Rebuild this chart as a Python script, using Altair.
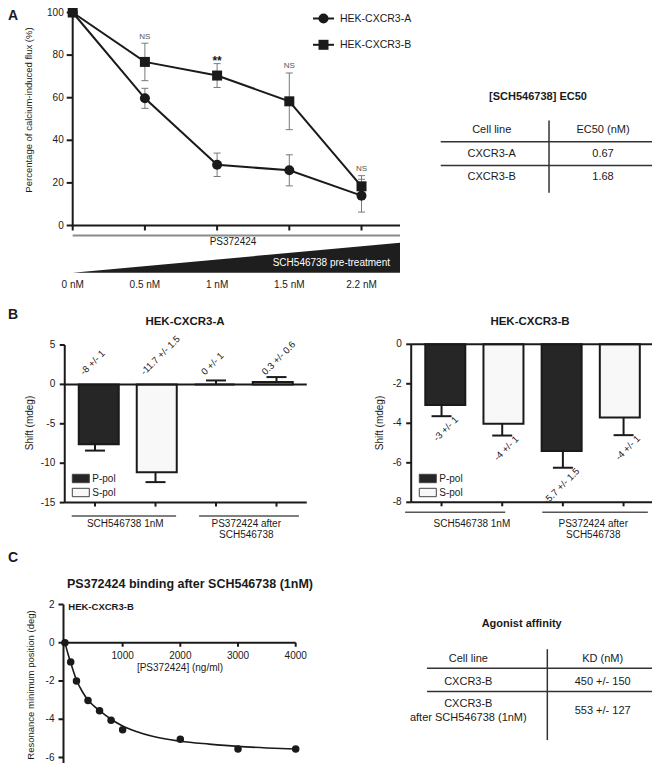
import altair as alt
import pandas as pd

# ---------------- data ----------------
conc_labels = ["0 nM", "0.5 nM", "1 nM", "1.5 nM", "2.2 nM"]
series_names = ["HEK-CXCR3-A", "HEK-CXCR3-B"]
cxcr3a_mean = [100, 59.7, 28.5, 25.9, 14.0]
cxcr3a_err = [0, 4.7, 5.5, 7.3, 7.7]
cxcr3b_mean = [100, 76.8, 70.4, 58.3, 18.4]
cxcr3b_err = [0, 8.8, 5.6, 13.3, 5.0]
signif = ["", "NS", "**", "NS", "NS"]
yA_ticks = [0, 20, 40, 60, 80, 100]

ec50_header = ["Cell line", "EC50 (nM)"]
ec50_cells = ["CXCR3-A", "CXCR3-B"]
ec50_values = ["0.67", "1.68"]

pol = ["P-pol", "S-pol", "P-pol", "S-pol"]
groupsB = ["SCH546738 1nM", "PS372424 after\nSCH546738"]
shiftA_val = [-7.6, -11.15, 0.0, 0.3]
shiftA_err = [0.8, 1.25, 0.5, 0.63]
shiftA_lab = ["-8 +/- 1", "-11.7 +/- 1.5", "0 +/- 1", "0.3 +/- 0.6"]
shiftB_val = [-3.07, -4.02, -5.4, -3.7]
shiftB_err = [0.57, 0.6, 0.85, 0.9]
shiftB_lab = ["-3 +/- 1", "-4 +/- 1", "-5.7 +/- 1.5", "-4 +/- 1"]
yBA_ticks = [5, 0, -5, -10, -15]
yBB_ticks = [0, -2, -4, -6, -8]

conc_ng = [0, 100, 200, 400, 600, 800, 1000, 2000, 3000, 4000]
resonance = [0, -1.0, -2.0, -3.02, -3.55, -4.05, -4.55, -5.05, -5.55, -5.55]
fit_x = [0, 50, 100, 200, 300, 400, 500, 600, 800, 1000, 1250, 1500, 2000, 2500, 3000, 3500, 4000]
fit_y = [0, -0.55, -1.05, -1.95, -2.55, -3.0, -3.3, -3.55, -4.0, -4.35, -4.65, -4.88, -5.15, -5.3, -5.42, -5.5, -5.56]
xC_ticks = [1000, 2000, 3000, 4000]
yC_ticks = [2, 0, -2, -4, -6]

kd_col0 = ["Cell line", "CXCR3-B", "CXCR3-B", "after SCH546738 (1nM)"]
kd_col1 = ["KD (nM)", "450 +/- 150", "553 +/- 127"]

# ---------------- helpers ----------------
FONT = "Liberation Sans"
INK = "#1a1a1a"
GREY = "#7a7a7a"


def P(v):
    return v - 8


def S(domain, r0, r1):
    return alt.Scale(domain=domain, range=[P(r0), P(r1)], nice=False, zero=False)


def X(f, s):
    return alt.X(f, type="quantitative", scale=s, axis=None)


def Y(f, s):
    return alt.Y(f, type="quantitative", scale=s, axis=None)


def txt(text, x, y, size=10, bold=False, align="center", color=INK, angle=0, baseline="middle"):
    kw = dict(font=FONT, fontSize=size, fontWeight="bold" if bold else "normal",
              align=align, baseline=baseline, color=color)
    if angle:
        kw["angle"] = angle
    return alt.Chart(pd.DataFrame({"t": [text]})).mark_text(**kw).encode(
        x=alt.value(P(x)), y=alt.value(P(y)), text="t:N")


L = []

# ================= Panel A =================
xA = S([0, 4.533], 72.7, 400)
yA = S([0, 100], 225.5, 12.5)
rows = []
for i in range(5):
    for s, m, e in ((series_names[0], cxcr3a_mean, cxcr3a_err),
                    (series_names[1], cxcr3b_mean, cxcr3b_err)):
        rows.append({"idx": i, "series": s, "mean": m[i], "lo": m[i] - e[i],
                     "hi": m[i] + e[i], "err": e[i]})
dfA = pd.DataFrame(rows)
errA = dfA[dfA["err"] > 0]
capsA = pd.concat([errA[["idx"]].assign(v=errA["lo"].values),
                   errA[["idx"]].assign(v=errA["hi"].values)])
shapeS = alt.Scale(domain=series_names, range=["circle", "square"])

L.append(alt.Chart(errA).mark_rule(color=GREY, strokeWidth=1).encode(
    x=X("idx", xA), y=Y("lo", yA), y2="hi"))
L.append(alt.Chart(capsA).mark_rule(color=GREY, strokeWidth=1, xOffset=-3.5, x2Offset=3.5).encode(
    x=X("idx", xA), x2="idx", y=Y("v", yA)))
L.append(alt.Chart(dfA).mark_line(color=INK, strokeWidth=2).encode(
    x=X("idx", xA), y=Y("mean", yA), detail="series:N"))
L.append(alt.Chart(dfA).mark_point(filled=True, opacity=1, color=INK, size=100).encode(
    x=X("idx", xA), y=Y("mean", yA),
    shape=alt.Shape("series:N", scale=shapeS, legend=None)))

top = [max(cxcr3a_mean[i] + cxcr3a_err[i], cxcr3b_mean[i] + cxcr3b_err[i]) for i in range(5)]
sig = pd.DataFrame({"idx": list(range(5)), "lab": signif, "top": top})
L.append(alt.Chart(sig[sig["lab"] == "NS"]).mark_text(
    font=FONT, fontSize=8, color="#555555", baseline="alphabetic", yOffset=-4.5).encode(
    x=X("idx", xA), y=Y("top", yA), text="lab:N"))
L.append(alt.Chart(sig[sig["lab"] == "**"]).mark_text(
    font=FONT, fontSize=12, fontWeight="bold", color=INK, baseline="alphabetic", yOffset=1).encode(
    x=X("idx", xA), y=Y("top", yA), text="lab:N"))

axA = pd.DataFrame({"x0": [0], "x1": [4.533], "y0": [0], "y1": [100]})
L.append(alt.Chart(axA).mark_rule(color=INK, strokeWidth=2).encode(
    x=X("x0", xA), y=Y("y0", yA), y2="y1"))
L.append(alt.Chart(axA).mark_rule(color=INK, strokeWidth=2).encode(
    x=X("x0", xA), x2="x1", y=Y("y0", yA)))
ytA = pd.DataFrame({"v": yA_ticks, "s": [str(v) for v in yA_ticks], "x0": 0})
L.append(alt.Chart(ytA).mark_rule(color=INK, strokeWidth=2, x2Offset=-6).encode(
    x=X("x0", xA), x2="x0", y=Y("v", yA)))
L.append(alt.Chart(ytA).mark_text(font=FONT, fontSize=10, color=INK, align="right",
                                  baseline="middle", xOffset=-9).encode(
    x=X("x0", xA), y=Y("v", yA), text="s:N"))
xtA = pd.DataFrame({"idx": list(range(5)), "lab": conc_labels, "y0": 0})
L.append(alt.Chart(xtA).mark_rule(color=INK, strokeWidth=2, y2Offset=5).encode(
    x=X("idx", xA), y=Y("y0", yA), y2="y0"))

# PS372424 bracket and pre-treatment wedge
L.append(alt.Chart(axA).mark_rule(color="#8a8a8a", strokeWidth=2).encode(
    x=X("x0", xA), x2="x1", y=alt.value(P(235.5))))
L.append(txt("PS372424", 233, 241.5))
wedge = pd.DataFrame({"x": [0, 4.533], "top": [0, 1], "base": [0, 0]})
yW = S([0, 1], 272.7, 242.7)
L.append(alt.Chart(wedge).mark_area(color="#1e1e1e", opacity=1).encode(
    x=X("x", xA), y=Y("top", yW), y2="base"))
L.append(txt("SCH546738 pre-treatment", 390, 262.7, color="white", align="right"))
L.append(alt.Chart(xtA).mark_text(font=FONT, fontSize=10, color=INK).encode(
    x=X("idx", xA), y=alt.value(P(285)), text="lab:N"))

# legend A
legA = pd.DataFrame({"series": series_names, "row": [0, 1]})
yL = S([0, 1], 18.5, 44.8)
L.append(alt.Chart(legA).mark_rule(color=INK, strokeWidth=2).encode(
    x=alt.value(P(313)), x2=alt.value(P(334)), y=Y("row", yL)))
L.append(alt.Chart(legA).mark_point(filled=True, opacity=1, color=INK, size=100).encode(
    x=alt.value(P(323.5)), y=Y("row", yL),
    shape=alt.Shape("series:N", scale=shapeS, legend=None)))
L.append(alt.Chart(legA).mark_text(font=FONT, fontSize=10.5, color=INK, align="left").encode(
    x=alt.value(P(340)), y=Y("row", yL), text="series:N"))

L.append(txt("Percentage of calcium-induced flux (%)", 29, 110, size=9.5, angle=270))
L.append(txt("A", 8, 16, size=14, bold=True, align="left"))

# table A
cA = S([0, 1], 491.7, 603)
rA = S([0, 2], 130, 177.3)
cellsA = pd.DataFrame({"col": [0, 1, 0, 1, 0, 1], "row": [0, 0, 1, 1, 2, 2],
                       "t": [ec50_header[0], ec50_header[1], ec50_cells[0], ec50_values[0],
                             ec50_cells[1], ec50_values[1]]})
L.append(alt.Chart(cellsA).mark_text(font=FONT, fontSize=11, color=INK).encode(
    x=X("col", cA), y=Y("row", rA), text="t:N"))
hA = pd.DataFrame({"r": [0.5, 1.5], "c0": -0.458, "c1": 1.5})
L.append(alt.Chart(hA).mark_rule(color="#333333", strokeWidth=1.5).encode(
    x=X("c0", cA), x2="c1", y=Y("r", rA)))
vA = pd.DataFrame({"c": [0.515], "r0": [-0.4], "r1": [2.65]})
L.append(alt.Chart(vA).mark_rule(color="#333333", strokeWidth=1.5).encode(
    x=X("c", cA), y=Y("r0", rA), y2="r1"))
L.append(txt("[SCH546738] EC50", 538, 97, size=11, bold=True))

# ================= Panel B =================
fillS = alt.Scale(domain=["P-pol", "S-pol"], range=["#262626", "#f8f8f8"])


def panelB(vals, errs, labs, xs, ys, yticks, ylo, yhi, brk_y, pads, above, leg_x, ylab_x):
    out = []
    df = pd.DataFrame({"idx": list(range(4)), "pol": pol, "val": vals, "zero": 0.0, "lab": labs})
    df["end"] = [v + (e if v >= 0 else -e) for v, e in zip(vals, errs)]
    out.append(alt.Chart(df).mark_bar(size=40, stroke=INK, strokeWidth=2).encode(
        x=X("idx", xs), y=Y("val", ys), y2="zero",
        fill=alt.Fill("pol:N", scale=fillS, legend=None)))
    out.append(alt.Chart(df).mark_rule(color=INK, strokeWidth=2).encode(
        x=X("idx", xs), y=Y("val", ys), y2="end"))
    out.append(alt.Chart(df).mark_rule(color=INK, strokeWidth=2, xOffset=-10, x2Offset=10).encode(
        x=X("idx", xs), x2="idx", y=Y("end", ys)))
    if above:
        out.append(alt.Chart(df).mark_text(font=FONT, fontSize=9.5, color=INK, angle=315,
                                           align="left", baseline="middle",
                                           xOffset=-13, yOffset=-11).encode(
            x=X("idx", xs), y=Y("zero", ys), text="lab:N"))
    else:
        out.append(alt.Chart(df).mark_text(font=FONT, fontSize=9.5, color=INK, angle=315,
                                           align="right", baseline="middle",
                                           xOffset=15, yOffset=2).encode(
            x=X("idx", xs), y=Y("end", ys), text="lab:N"))
    ax = pd.DataFrame({"x0": [-0.5], "x1": [3.5], "ylo": [ylo], "yhi": [yhi], "z": [0.0]})
    out.append(alt.Chart(ax).mark_rule(color=INK, strokeWidth=2).encode(
        x=X("x0", xs), y=Y("ylo", ys), y2="yhi"))
    out.append(alt.Chart(ax).mark_rule(color=INK, strokeWidth=2).encode(
        x=X("x0", xs), x2="x1", y=Y("z", ys)))
    out.append(alt.Chart(ax).mark_rule(color=INK, strokeWidth=2).encode(
        x=X("x0", xs), x2="x1", y=Y("ylo", ys)))
    yt = pd.DataFrame({"v": yticks, "s": [str(v) for v in yticks], "x0": -0.5})
    out.append(alt.Chart(yt).mark_rule(color=INK, strokeWidth=2, x2Offset=-5).encode(
        x=X("x0", xs), x2="x0", y=Y("v", ys)))
    out.append(alt.Chart(yt).mark_text(font=FONT, fontSize=10, color=INK, align="right",
                                       baseline="middle", xOffset=-9.5).encode(
        x=X("x0", xs), y=Y("v", ys), text="s:N"))
    xt = pd.DataFrame({"idx": list(range(4)), "y0": ylo})
    out.append(alt.Chart(xt).mark_rule(color=INK, strokeWidth=2, y2Offset=4).encode(
        x=X("idx", xs), y=Y("y0", ys), y2="y0"))
    br = pd.DataFrame({"g": groupsB, "s": [0 + pads[0], 2 + pads[2]],
                       "e": [1 + pads[1], 3 + pads[3]], "m": [0.5, 2.5]})
    out.append(alt.Chart(br).mark_rule(color="#555555", strokeWidth=1.5).encode(
        x=X("s", xs), x2="e", y=alt.value(P(brk_y))))
    out.append(alt.Chart(br).mark_text(font=FONT, fontSize=10, color=INK, baseline="top",
                                       lineBreak="\n", lineHeight=11.5).encode(
        x=X("m", xs), y=alt.value(P(518.5)), text="g:N"))
    leg = pd.DataFrame({"pol": ["P-pol", "S-pol"], "row": [0, 1]})
    yLeg = S([0, 1], 478.5, 492.5)
    out.append(alt.Chart(leg).mark_rect(stroke="#444444", strokeWidth=1, yOffset=-4.2,
                                        y2Offset=4.2).encode(
        x=alt.value(P(leg_x)), x2=alt.value(P(leg_x + 17)), y=Y("row", yLeg), y2="row",
        fill=alt.Fill("pol:N", scale=fillS, legend=None)))
    out.append(alt.Chart(leg).mark_text(font=FONT, fontSize=10, color=INK, align="left").encode(
        x=alt.value(P(leg_x + 20)), y=Y("row", yLeg), text="pol:N"))
    out.append(txt("Shift (mdeg)", ylab_x, 423, size=10, angle=270))
    return out


xBL = S([-0.5, 3.5], 64.75, 306.75)
yBL = S([-15, 5], 502.6, 345)
L += panelB(shiftA_val, shiftA_err, shiftA_lab, xBL, yBL, yBA_ticks, -15, 5, 516,
            [-0.385, 0.34, -0.28, 0.37], True, 72.3, 30)
xBR = S([-0.5, 3.5], 411.2, 653.9)
yBR = S([-8, 0], 502.3, 344.3)
L += panelB(shiftB_val, shiftB_err, shiftB_lab, xBR, yBR, yBB_ticks, -8, 0, 512.3,
            [-0.6, 0.05, -0.34, 0.4], False, 419.3, 380)
L.append(txt("B", 8, 315, size=14, bold=True, align="left"))
L.append(txt("HEK-CXCR3-A", 185, 321.7, size=11.5, bold=True))
L.append(txt("HEK-CXCR3-B", 530, 321.7, size=11.5, bold=True))

# ================= Panel C =================
xC = S([-25, 4000], 63.5, 295.7)
yC = S([-6, 2], 757.5, 604.5)
fit = pd.DataFrame({"x": fit_x, "y": fit_y})
pts = pd.DataFrame({"x": conc_ng, "y": resonance})
axC = pd.DataFrame({"x0": [-25], "x1": [4000], "ylo": [-6.6], "yhi": [2], "z": [0]})
L.append(alt.Chart(axC).mark_rule(color=INK, strokeWidth=2).encode(
    x=X("x0", xC), y=Y("ylo", yC), y2="yhi"))
L.append(alt.Chart(axC).mark_rule(color=INK, strokeWidth=2).encode(
    x=X("x0", xC), x2="x1", y=Y("z", yC)))
ytC = pd.DataFrame({"v": yC_ticks, "s": [str(v) for v in yC_ticks], "x0": -25})
L.append(alt.Chart(ytC).mark_rule(color=INK, strokeWidth=2, x2Offset=-5).encode(
    x=X("x0", xC), x2="x0", y=Y("v", yC)))
L.append(alt.Chart(ytC).mark_text(font=FONT, fontSize=10, color=INK, align="right",
                                  baseline="middle", xOffset=-9).encode(
    x=X("x0", xC), y=Y("v", yC), text="s:N"))
xtC = pd.DataFrame({"v": xC_ticks, "s": [str(v) for v in xC_ticks], "y0": 0})
L.append(alt.Chart(xtC).mark_rule(color=INK, strokeWidth=2, y2Offset=4).encode(
    x=X("v", xC), y=Y("y0", yC), y2="y0"))
L.append(alt.Chart(xtC).mark_text(font=FONT, fontSize=10, color=INK, baseline="middle",
                                  yOffset=13.5).encode(
    x=X("v", xC), y=Y("y0", yC), text="s:N"))
L.append(alt.Chart(fit).mark_line(color=INK, strokeWidth=1.6, interpolate="monotone").encode(
    x=X("x", xC), y=Y("y", yC)))
L.append(alt.Chart(pts).mark_circle(size=56, color=INK, opacity=1).encode(
    x=X("x", xC), y=Y("y", yC)))
L.append(txt("[PS372424] (ng/ml)", 180, 668))
L.append(txt("HEK-CXCR3-B", 68.3, 607, size=9.5, bold=True, align="left"))
L.append(txt("Resonance minimum position (deg)", 30.7, 685, size=9.5, angle=270))
L.append(txt("PS372424 binding after SCH546738 (1nM)", 190, 583.5, size=12.5, bold=True))
L.append(txt("C", 8, 558, size=14, bold=True, align="left"))

# table C
cC = S([0, 1], 468.3, 602.7)
rC = S([0, 1], 659, 682.3)
cellsC = pd.DataFrame({"col": [0] * len(kd_col0) + [1] * len(kd_col1),
                       "row": [0, 1, 1.944, 2.532] + [0, 1, 2.23],
                       "t": kd_col0 + kd_col1})
L.append(alt.Chart(cellsC).mark_text(font=FONT, fontSize=11, color=INK).encode(
    x=X("col", cC), y=Y("row", rC), text="t:N"))
hC = pd.DataFrame({"r": [0.4, 1.4], "c0": -0.307, "c1": 1.41})
L.append(alt.Chart(hC).mark_rule(color="#333333", strokeWidth=1.5).encode(
    x=X("c0", cC), x2="c1", y=Y("r", rC)))
vC = pd.DataFrame({"c": [0.588], "r0": [-0.42], "r1": [3.48]})
L.append(alt.Chart(vC).mark_rule(color="#333333", strokeWidth=1.5).encode(
    x=X("c", cC), y=Y("r0", rC), y2="r1"))
L.append(txt("Agonist affinity", 521.7, 624.3, size=11, bold=True))

chart = alt.layer(*L).resolve_scale(
    x="independent", y="independent", fill="independent", shape="independent"
).properties(
    width=644, height=755, autosize=alt.AutoSizeParams(type="none"), padding=0
).configure_view(stroke=None)

chart.save("out.html", embed_options={"renderer": "svg", "actions": False})
